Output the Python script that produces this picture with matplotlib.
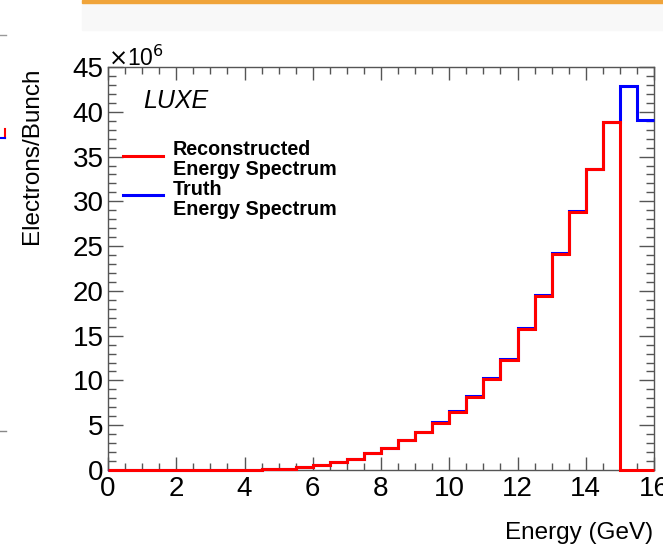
import matplotlib
matplotlib.use("Agg")
import matplotlib.pyplot as plt
from matplotlib.patches import Rectangle
from matplotlib.lines import Line2D
from matplotlib.ticker import MultipleLocator
import numpy as np

plt.rcParams['font.family'] = ['Liberation Sans', 'DejaVu Sans']

# histogram: 32 bins of 0.5 GeV, values in units of 1e6 electrons
edges = np.arange(0, 16.01, 0.5)
reco = [0, 0, 0, 0, 0, 0, 0, 0.01, 0.03, 0.07,
        0.15, 0.3, 0.56, 0.86, 1.26, 1.93, 2.5, 3.3, 4.2, 5.3,
        6.5, 8.2, 10.2, 12.3, 15.7, 19.4, 24.1, 28.8, 33.6, 38.9,
        0, 0]
truth = [0, 0, 0, 0, 0, 0, 0, 0.01, 0.03, 0.06,
         0.14, 0.28, 0.54, 0.84, 1.2, 1.9, 2.45, 3.35, 4.2, 5.35,
         6.55, 8.25, 10.3, 12.35, 15.9, 19.5, 24.2, 28.9, 33.6, 38.9,
         42.9, 39.1]

W, H = 663, 545
fig = plt.figure(figsize=(6.63, 5.45), dpi=100)

def fx(px):
    return px / W

def fy(py):
    return 1 - py / H

# slide decorations around the cropped plot
fig.patches.append(Rectangle((fx(82), fy(30)), 1, 27 / H, transform=fig.transFigure,
                             color='#f8f8f8', zorder=0))
fig.patches.append(Rectangle((fx(82), fy(3)), 1, 3 / H, transform=fig.transFigure,
                             color='#f0a43a', zorder=0))
fig.lines.append(Line2D([fx(4.5), fx(4.5)], [fy(129), fy(138)], transform=fig.transFigure, color='red', lw=1.5))
fig.lines.append(Line2D([0, fx(4.5)], [fy(138), fy(138)], transform=fig.transFigure, color='blue', lw=1.5))
fig.lines.append(Line2D([0, fx(6)], [fy(431), fy(431)], transform=fig.transFigure, color='#888888', lw=1))
fig.lines.append(Line2D([0, fx(6)], [fy(35), fy(35)], transform=fig.transFigure, color='#999999', lw=1))

ax = fig.add_axes([fx(108), fy(470), (654 - 108) / W, (470 - 67) / H])

ax.stairs(truth, edges, color='blue', lw=2.2, baseline=None, zorder=3, clip_on=False)
ax.stairs(reco, edges, color='red', lw=2.2, baseline=None, zorder=3.1, clip_on=False)

ax.set_xlim(0, 16)
ax.set_ylim(0, 45)
ax.xaxis.set_major_locator(MultipleLocator(2))
ax.xaxis.set_minor_locator(MultipleLocator(0.5))
ax.yaxis.set_major_locator(MultipleLocator(5))
ax.yaxis.set_minor_locator(MultipleLocator(1))
ax.tick_params(axis='both', which='both', direction='in', top=True, right=True,
               color='#555555', width=1, labelsize=20)
ax.tick_params(axis='x', which='major', length=9.5, pad=4)
ax.tick_params(axis='x', which='minor', length=4.7)
ax.tick_params(axis='y', which='major', length=10.8, pad=3)
ax.tick_params(axis='y', which='minor', length=5.6)
for s in ax.spines.values():
    s.set_color('#555555')
    s.set_linewidth(1)

fig.text(fx(653), fy(539), 'Energy (GeV)', fontsize=17.5, ha='right', va='baseline')
fig.text(fx(32), fy(67), 'Electrons/Bunch', fontsize=17.5, rotation=90,
         ha='center', va='top')

ax.text(0.0, 0.99, r'$\times$10$^{6}$', transform=ax.transAxes, fontsize=16.5,
        ha='left', va='bottom')
ax.text(0.064, 0.916, 'LUXE', transform=ax.transAxes, fontsize=18, style='italic',
        ha='left', va='center')

# legend drawn by hand
ax.plot([0.0275, 0.1007], [0.78, 0.78], transform=ax.transAxes, color='red', lw=2.2)
ax.plot([0.0275, 0.1007], [0.682, 0.682], transform=ax.transAxes, color='blue', lw=2.2)
leg_lines = ['Reconstructed', 'Energy Spectrum', 'Truth', 'Energy Spectrum']
for k, s in enumerate(leg_lines):
    ax.text(0.119, 0.7816 - 0.0496 * k, s, transform=ax.transAxes,
            fontsize=14.2, fontweight='bold', ha='left', va='baseline')

fig.savefig('out.png', dpi=100)
